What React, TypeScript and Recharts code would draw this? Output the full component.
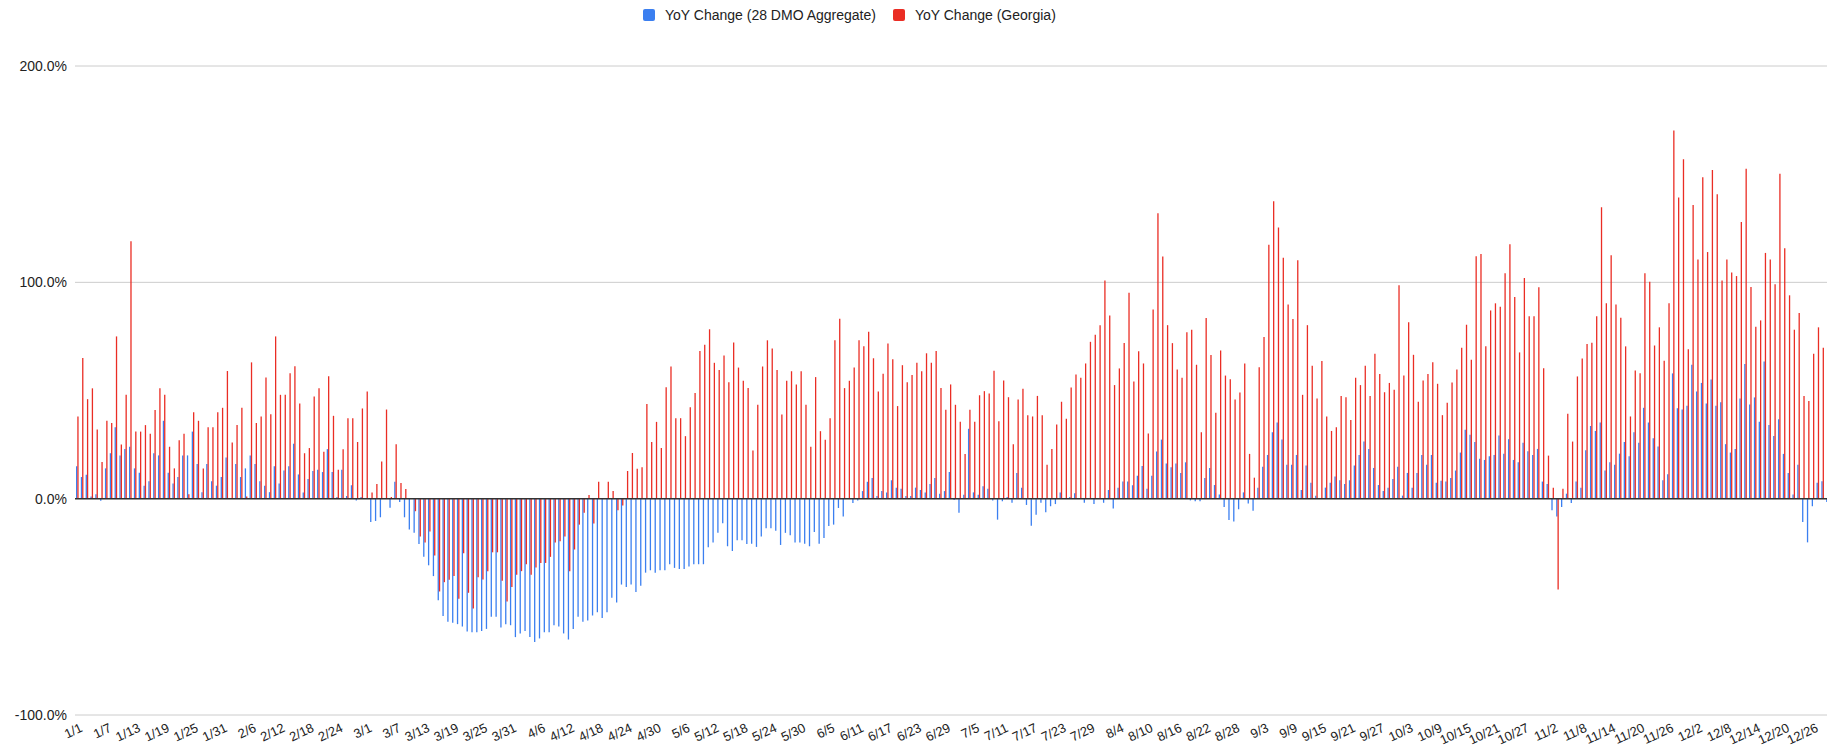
import React from "react";
import { BarChart, Bar, XAxis, YAxis, CartesianGrid, ReferenceLine } from "recharts";

// 2020 calendar (leap year); the visible chart runs 1/1 .. 12/29
const monthDays = [31, 29, 31, 30, 31, 30, 31, 31, 30, 31, 30, 31];
const DAY_COUNT = 364;

// YoY change in %
const aggregate = [
  15, 10, 11, 1, 2, -1, 14, 21, 33, 20, 23, 24, 14, 12, 6, 8, 21, 20, 36, 12, 7, 10, 20, 20, 31, 16, 3, 16, 8, 6, 10, 19, 0, 16, 10, 14, 20, 16, 8, 6, 3, 15, 7, 13, 15,
  25.4, 11.2, 2.9, 9.1, 12.8, 13.4, 12.3, 22.9, 12.3, 0.8, 13.4, 1.2, 6.2, -0.8, 0.8, 0, -10.8, -10.3, -8.6, 0, -4.2, 7.8, -1.5, -8.6, -14.2, -15.8, -20.9, -26.9, -30.8, -35.8, -46.9, -54.2, -56.9, -57.4, -58, -59.1, -61.4, -61.8, -61.8, -61.2, -60.2, -54.6, -54.6, -59.5, -58, -58.5, -64,
  -62.3, -61.2, -64, -66.2, -64.6, -61.8, -61.8, -58.5, -59.1, -62.3, -65.1, -60.2, -54.6, -56.9, -56.3, -54, -52.5, -55.2, -52.5, -45.8, -48, -39.7, -40.8, -39.7, -43.1, -40.3, -34.2, -33.1, -34.2, -33.1, -33.1, -30.3, -32, -32.5, -32.5, -31.4, -30.3, -30.3, -30.3, -22.5, -20.3, -15.8, -11.4, -22, -24.2, -19.2, -19.2, -20.9,
  -20.8, -22.3, -17.5, -13.7, -13.7, -14.8, -21.4, -15.8, -16.9, -20.3, -20.3, -20.8, -22, -15.4, -20.8, -18.2, -12.6, -12, -4.3, -8.2, 0, -2, -0.9, 3.5, 7.8, 9.5, 1.2, 3.5, 2.9, 8.5, 5.1, 4.6, 1.2, 1.2, 5.1, 4, 2.9, 6.8, 9.5, 2.3, 3.5, 12.3, -0.6, -6.5, 1.8, 32.3, 2.9,
  1.8,
  5.7, 4.6, -0.8, -9.7, -1.2, 0.8, -1.9, 11.9, 5.1, -2.9, -12.5, -7.4, -1.9, -6.3, -3.5, -2.5, 2.9, 0.3, 0.8, 2.5, 0, -1.9, 0, -2.5, 0, -1.9, 4, -4.6, 5.1, 7.9, 7.9, 6.2, 10.6, 15.1, 4.6, 10.6, 21.8, 27.3, 16.2, 14.5, 16.2, 11.9, 16.8, -0.8, -1.2, -1.2, 9.6,
  14.2, 6.3, 1.9, -3.9, -9.9, -10.5, -4.9, 2.9, -2.2, -5.6, 5.1, 14.7, 20.2, 30.7, 35.2, 27.3, 15.7, 15.7, 20.2, 4, 15.3, 7.4, 1.4, 0.3, 5.1, 7.4, 10.2, 8.5, 6.8, 8.5, 15.3, 20.2, 26.4, 23, 14.2, 6.3, 3.5, 5.1, 9.1, 14.7, 1.4, 11.9, 5.1, 11.9, 20.2, 15.7, 20.2, 7.4,
  8.3, 7.9, 9.6, 13, 21.3, 31.9, 29.6, 26.2, 18.5, 17.9, 19.6, 20.2, 29.2, 20.8, 27.5, 17.9, 16.8, 25.8, 21.9, 20.2, 23, 7.9, 6.8, -5.4, -8.2, -3.9, 2.3, -2, 7.9, 5.1, 22.4, 33.6, 31.3, 35.2, 13, 16.8, 15.7, 20.8, 26.2, 19.6, 30.7, 25.8, 42, 35.2, 27.9, 24.1, 8.5,
  11.3, 57.9, 41.8, 41.2, 42.9, 61.9, 49.5, 53.5, 44, 55.1, 42.9, 44.6, 25.2, 21.3, 23, 46.3, 62.3, 43.5, 46.8, 35.6, 63.4, 34, 29, 36.7, 20.7, 11.9, 1.9, 15.7, -10.8, -20.2, -3.5, 7.4, 8, -1.5,
];

const georgia = [
  38, 65, 46, 51, 32, 17, 36, 35, 75, 25, 48, 119, 31, 31, 34, 30, 41, 51, 48, 24, 14, 27, 30, 2, 40, 36, 14, 33, 33, 40, 42, 59, 26, 34, 42, 1, 63, 35, 38, 56, 39, 75, 48, 48, 58,
  61.2, 44, 21, 23.4, 47.2, 51, 21.7, 56.6, 38.3, 13.4, 22.9, 37.2, 37.2, 26.2, 41.7, 49.5, 2.9, 6.8, 17.2, 41.2, 0.8, 25.1, 7.2, 4.5, 0, -5.8, -17.5, -20.3, -15.2, -26.3, -42.9, -38.6, -37.5, -35.8, -46.3, -25.2, -43.5, -50.8, -36.3, -37.4, -33.5, -24.8, -24.8, -38, -47.5, -40.8, -35.2,
  -33.5, -30.3, -35.2, -31.8, -29.7, -29.7, -26.9, -20.3, -19.7, -17.5, -33.5, -23.5, -12, -6.5, 1.7, -11.5, 7.8, 0, 7.8, 3.5, -5.4, -3.2, 12.8, 21.1, 13.8, 14.5, 43.8, 26.2, 35.5, 23.4, 51.5, 61.1, 37.2, 37.2, 28.9, 42.2, 48.8, 68.3, 71.1, 78.3, 62.8, 59.5, 66.2, 53.8, 72.2, 60.6, 54.5, 51.1,
  22.3, 43.4, 61.1, 73.2, 69.4, 59.5, 38.9, 54.5, 58.9, 52.8, 58.9, 43.4, 24, 56.2, 31.2, 27.2, 37.2, 73.2, 83.2, 51.1, 54.5, 60.6, 73.2, 70.5, 77.2, 64.9, 49.5, 57.8, 71.7, 64.5, 42.8, 61.7, 53.8, 57.2, 62.8, 58.9, 67.2, 62.8, 68.3, 51.1, 41.1, 52.8, 43.4, 35.5, 20.6, 41.1, 35.5,
  47.8,
  49.7, 48.6, 59.1, 35.8, 54.6, 46.9, 25.2, 45.8, 50.8, 38.6, 38, 47.5, 38.6, 15.7, 23, 34.3, 44.8, 36.9, 51.4, 57.4, 55.9, 62.5, 72.5, 75.8, 80.2, 100.8, 84.7, 52.5, 60.2, 71.9, 95.2, 54.2, 68.1, 62.5, 30.1, 87.5, 131.9, 111.9, 80.2, 71.9, 59.7, 55.9, 76.9, 78.1, 61.9, 30.7, 83.5,
  66.4, 39.7, 68.5, 56.9, 55.2, 45.8, 49.1, 62.5, 20.7, 9.7, 60.8, 74.7, 117.4, 137.5, 125.3, 111.4, 89.7, 83, 110.2, 48, 80.2, 61.4, 46.3, 63.6, 38, 31.3, 33, 47.5, 46.9, 36.4, 55.9, 52.5, 61.4, 47.5, 67, 57.6, 49.2, 53.5, 50.3, 98.6, 56.9, 81.5, 66.5, 44.8, 54.6, 57.6, 63.1, 53.1,
  38.6, 44.3, 53.7, 59.7, 69.8, 80.4, 64.2, 112, 113.1, 70.4, 87, 90.3, 88.7, 104.2, 117.6, 93.2, 67.6, 102, 84.3, 84.3, 97.7, 60.3, 19.9, 5.1, -42, 4.6, 39.2, 26.4, 56.5, 64.8, 71.5, 72.1, 84.3, 134.7, 90.3, 112.5, 89.8, 83.6, 70.4, 38, 59.3, 58, 104.2, 100.3, 70.8, 79.2, 63.7,
  90.3, 170.2, 139.2, 156.9, 69.1, 135.8, 110.6, 148.6, 114, 151.9, 140.7, 100.8, 110.6, 104.6, 102.9, 127.9, 152.5, 97.8, 79.5, 82.4, 113.6, 110.6, 99.1, 150.2, 115.7, 94, 78.1, 85.8, 47.4, 45.1, 67, 79.2, 69.8, null,
];

const yTicks = [-100, 0, 100, 200];

const BLUE = "#3b7ff0";
const RED = "#ea2d24";
const FONT = '"Liberation Sans", Arial, sans-serif';

const dayLabels: string[] = [];
monthDays.forEach((n, m) => {
  for (let d = 1; d <= n; d++) dayLabels.push(`${m + 1}/${d}`);
});

const data = dayLabels.slice(0, DAY_COUNT).map((d, i) => ({
  d,
  agg: aggregate[i],
  ga: georgia[i],
}));

// slanted date labels, right end pinned just past the tick
function SlantTick({ x, y, payload }: any) {
  return (
    <g transform={`translate(${x + 6},${y + 8})`}>
      <text
        textAnchor="end"
        transform="rotate(-25)"
        fontSize={13}
        fill="#222"
        fontFamily={FONT}
      >
        {payload.value}
      </text>
    </g>
  );
}

function LegendBox() {
  const item = (color: string, label: string, gap: number) => (
    <span style={{ display: "inline-flex", alignItems: "center", marginRight: gap }}>
      <span style={{ width: 12, height: 12, background: color, borderRadius: 2, marginRight: 10 }} />
      {label}
    </span>
  );
  return (
    <div
      style={{
        position: "absolute",
        left: 643,
        top: 7,
        fontSize: 14,
        color: "#222",
        fontFamily: FONT,
        whiteSpace: "nowrap",
        display: "flex",
      }}
    >
      {item(BLUE, "YoY Change (28 DMO Aggregate)", 17)}
      {item(RED, "YoY Change (Georgia)", 0)}
    </div>
  );
}

export default function App() {
  return (
    <div
      style={{
        position: "absolute",
        left: 0,
        top: 0,
        width: 1827,
        height: 750,
        overflow: "hidden",
        background: "#fff",
        fontFamily: FONT,
      }}
    >
      <LegendBox />
      <BarChart
        width={1840}
        height={750}
        data={data}
        margin={{ top: 66, right: 10, bottom: 0, left: 10 }}
        barGap={0}
      >
        <CartesianGrid vertical={false} stroke="#cccccc" />
        <XAxis
          dataKey="d"
          interval={5}
          tickLine={false}
          axisLine={false}
          height={35}
          tick={<SlantTick />}
        />
        <YAxis
          width={65}
          domain={[-100, 200]}
          ticks={yTicks}
          tickLine={false}
          axisLine={false}
          tick={{ fontSize: 14, fill: "#222", fontFamily: FONT }}
          tickFormatter={(v: number) => `${v.toFixed(1)}%`}
        />
        <Bar dataKey="agg" fill={BLUE} barSize={1.3} isAnimationActive={false} />
        <Bar dataKey="ga" fill={RED} barSize={1.3} isAnimationActive={false} />
        <ReferenceLine y={0} stroke="#333" strokeWidth={1.5} />
      </BarChart>
    </div>
  );
}
